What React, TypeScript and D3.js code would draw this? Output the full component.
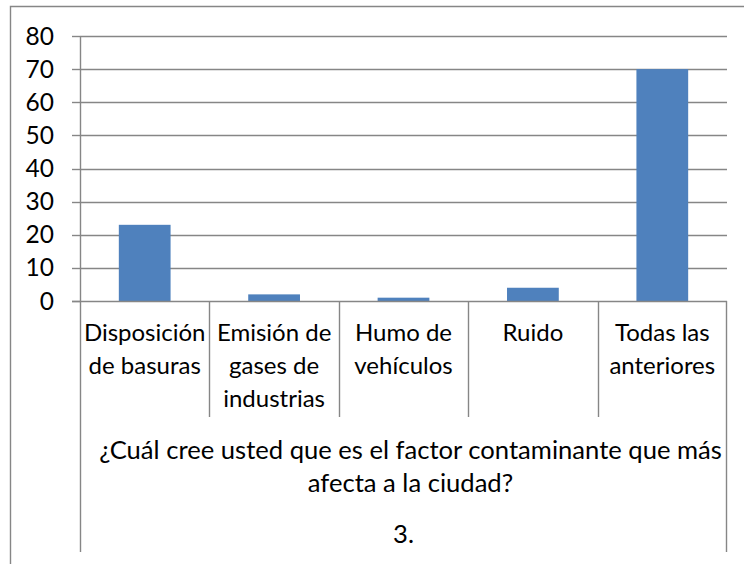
import React from "react";
import * as d3 from "d3";

const categories: string[][] = [
  ["Disposición", "de basuras"],
  ["Emisión de", "gases de", "industrias"],
  ["Humo de", "vehículos"],
  ["Ruido"],
  ["Todas las", "anteriores"],
];
const values: number[] = [23, 2, 1, 4, 70];
const yTicks: number[] = [0, 10, 20, 30, 40, 50, 60, 70, 80];
const titleLines: string[] = [
  "¿Cuál cree usted que es el factor contaminante que más",
  "afecta a la ciudad?",
];
const groupLabel = "3.";

const W = 744;
const H = 564;
const left = 80;
const right = 727;
const top = 36;
const bottom = 301;
const lvl1Bottom = 417;
const lvlEnd = 552;
const FONT = "Lato, 'Open Sans', sans-serif";
const FS = 24;
const FS_TITLE = 25.6;
const LINE = "#868686";
const BAR = "#4f81bd";

export default function App() {
  const y = d3.scaleLinear().domain([0, 80]).range([bottom, top]);
  const keys = categories.map((_, i) => String(i));
  const xBar = d3
    .scaleBand<string>()
    .domain(keys)
    .range([left, right])
    .paddingInner(0.6)
    .paddingOuter(0.3);
  const xCell = d3.scaleBand<string>().domain(keys).range([left, right]).padding(0);
  const crisp = (v: number) => Math.round(v) + 0.5;

  return (
    <div style={{ position: "absolute", left: 0, top: 0 }}>
      <svg width={W} height={H} style={{ display: "block", background: "#fff" }} fontFamily={FONT}>
        <rect x={0} y={0} width={W} height={H} fill="#fff" />
        {/* outer border */}
        <path d={`M10.5,${H} V6.5 H${W}`} fill="none" stroke={LINE} strokeWidth={1.4} />
        {/* gridlines */}
        {yTicks.filter((t) => t > 0).map((t) => (
          <line key={"g" + t} x1={left} x2={right} y1={crisp(y(t))} y2={crisp(y(t))} stroke={LINE} strokeWidth={1.4} />
        ))}
        {/* y tick marks */}
        {yTicks.map((t) => (
          <line key={"tm" + t} x1={left - 8} x2={left} y1={crisp(y(t))} y2={crisp(y(t))} stroke={LINE} strokeWidth={1.4} />
        ))}
        {/* y labels */}
        {yTicks.map((t) => (
          <text key={"tl" + t} x={54} y={y(t)} dy="0.35em" textAnchor="end" fontSize={FS + 0.5} fill="#000">
            {t}
          </text>
        ))}
        {/* bars */}
        {values.map((v, i) => (
          <rect key={"b" + i} x={xBar(String(i))} y={y(v)} width={xBar.bandwidth()} height={y(0) - y(v)} fill={BAR} />
        ))}
        {/* x axis */}
        <line x1={left - 8} x2={right} y1={crisp(y(0))} y2={crisp(y(0))} stroke={LINE} strokeWidth={1.4} />
        {/* y axis */}
        <line x1={left + 0.5} x2={left + 0.5} y1={top} y2={lvlEnd} stroke={LINE} strokeWidth={1.4} />
        <line x1={right - 0.5} x2={right - 0.5} y1={bottom} y2={lvlEnd} stroke={LINE} strokeWidth={1.4} />
        {/* category dividers */}
        {keys.slice(1).map((k) => (
          <line key={"d" + k} x1={crisp(xCell(k)!)} x2={crisp(xCell(k)!)} y1={bottom} y2={lvl1Bottom} stroke={LINE} strokeWidth={1.4} />
        ))}
        {/* category labels */}
        {categories.map((lines, i) => (
          <text key={"c" + i} x={xCell(String(i))! + xCell.bandwidth() / 2} y={341} textAnchor="middle" fontSize={FS} fill="#000">
            {lines.map((ln, j) => (
              <tspan key={j} x={xCell(String(i))! + xCell.bandwidth() / 2} y={341 + j * 33}>
                {ln}
              </tspan>
            ))}
          </text>
        ))}
        {/* second level title */}
        {titleLines.map((ln, j) => (
          <text key={"t" + j} x={(left + right) / 2 + 7} y={459 + j * 33} textAnchor="middle" fontSize={FS_TITLE} fill="#000">
            {ln}
          </text>
        ))}
        <text x={(left + right) / 2} y={543} textAnchor="middle" fontSize={FS_TITLE} fill="#000">
          {groupLabel}
        </text>
      </svg>
    </div>
  );
}
